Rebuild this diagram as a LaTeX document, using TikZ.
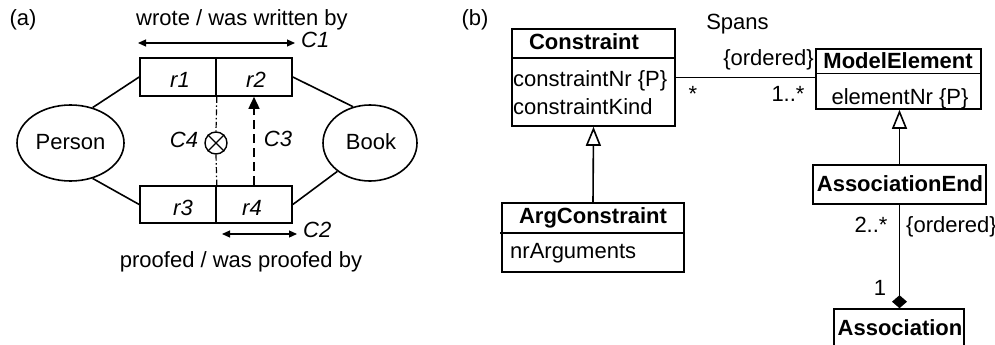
\documentclass[tikz,border=0pt]{standalone}
\usepackage{fontspec}
\setmainfont{Liberation Sans}
\usetikzlibrary{arrows.meta,shapes.geometric}
\begin{document}
\begin{tikzpicture}[x=1pt,y=-1pt,
  txt/.style={inner sep=0pt, anchor=base, font=\fontsize{22}{24}\selectfont},
  txtl/.style={txt, anchor=base west},
  txtr/.style={txt, anchor=base east},
  bold/.style={txt, font=\fontsize{22}{24}\selectfont\bfseries},
  bx/.style={draw, line width=1.6pt, inner sep=0pt, rectangle},
  ln/.style={line width=1.6pt},
  ell/.style={draw, ellipse, line width=1.6pt, inner sep=0pt},
  dbl/.style={line width=1.2pt, {Triangle[length=8pt,width=7pt]}-{Triangle[length=8pt,width=7pt]}},
  gen/.style={ln, -{Triangle[open, length=19pt, width=15pt]}},
  comp/.style={ln, -{Diamond[length=13pt, width=15pt]}},
]
\useasboundingbox (0,0) rectangle (995,345);

% ---------- panel (a) ----------
\node[txt] (la) at (23,26) {(a)};
\node[txt] (wrote) at (242,26) {wrote / was written by};
\node[txt] (proofed) at (241,267) {proofed / was proofed by};

\node[bx, minimum width=76pt, minimum height=38pt] (r1) at (178,77) {};
\node[bx, minimum width=76pt, minimum height=38pt] (r2) at (254,77) {};
\node[bx, minimum width=76pt, minimum height=37pt] (r3) at (178,204.5) {};
\node[bx, minimum width=76pt, minimum height=37pt] (r4) at (254,204.5) {};
\node[txt] (r1t) at (180,87) {\textit{r1}};
\node[txt] (r2t) at (256,87) {\textit{r2}};
\node[txt] (r3t) at (183,215) {\textit{r3}};
\node[txt] (r4t) at (252,215) {\textit{r4}};

\node[ell, minimum width=107pt, minimum height=76pt] (person) at (70.5,143) {};
\node[ell, minimum width=94pt, minimum height=76pt] (book) at (370,143) {};
\node[txt] (persont) at (70.5,149) {Person};
\node[txt] (bookt) at (371,149) {Book};

\draw[ln] (person.58) -- (r1.west);
\draw[ln] (person.-58) -- (r3.west);
\draw[ln] (book.115) -- (r2.east);
\draw[ln] (book.-139) -- (r4.east);

% C1, C2
\coordinate (c1a) at (138,43);
\coordinate (c1b) at (295,43);
\draw[dbl] (c1a) -- (c1b);
\node[txtl] (c1) at (301,48) {\textit{C1}};
\coordinate (c2a) at (222,234);
\coordinate (c2b) at (297,234);
\draw[dbl] (c2a) -- (c2b);
\node[txtl] (c2) at (303,237) {\textit{C2}};

% C4
\node[circle, draw, line width=1.4pt, minimum size=22pt, inner sep=0pt] (c4) at (216,143) {};
\draw[line width=1.4pt] (c4.north west) -- (c4.south east);
\draw[line width=1.4pt] (c4.north east) -- (c4.south west);
\draw[line width=1.2pt, dash pattern=on 6pt off 2.5pt on 1.5pt off 2.5pt] (r1.south east) -- (c4.north);
\draw[line width=1.2pt, dash pattern=on 6pt off 2.5pt on 1.5pt off 2.5pt] (c4.south) -- (r3.north east);
\node[txt] (c4t) at (184,147) {\textit{C4}};

% C3
\draw[line width=1.5pt, dash pattern=on 9pt off 5pt, -{Triangle[length=12pt, width=11pt]}] (r4.north) -- (r2.south);
\node[txt] (c3t) at (278,146) {\textit{C3}};

% ---------- panel (b) ----------
\node[txt] (lb) at (475,26) {(b)};
\node[txt] (spans) at (737.5,30) {Spans};

\node[bx, minimum width=163pt, minimum height=97pt] (cons) at (593.5,77.5) {};
\draw[ln] (512,58) -- (675,58);
\node[bold] (const) at (584,49) {Constraint};
\node[txtl] (cnr) at (513,86) {constraintNr \{P\}};
\node[txtl] (ckind) at (513,114) {constraintKind};

\node[bx, minimum width=165pt, minimum height=60pt] (me) at (898.5,79) {};
\draw[ln] (816,73.5) -- (981,73.5);
\node[bold] (met) at (898,68) {ModelElement};
\node[txt] (enr) at (900,104) {elementNr \{P\}};

\node[bx, minimum width=173pt, minimum height=39pt] (ae) at (899.5,184.5) {};
\node[bold] (aet) at (900,191) {AssociationEnd};

\node[bx, minimum width=182pt, minimum height=69pt] (argc) at (593,237.5) {};
\draw[ln] (500,233) -- (684,233);
\node[bold] (argct) at (593,223) {ArgConstraint};
\node[txtl] (nrarg) at (510,258) {nrArguments};

\node[bx, minimum width=130pt, minimum height=51pt] (assoc) at (899,334.5) {};
\node[bold] (assoct) at (900,335) {Association};

% connectors
\draw[ln] (cons.east) -- (cons.east -| me.west);
\node[txtr] (ord1) at (814,65) {\{ordered\}};
\node[txt] (star) at (693,101) {*};
\node[txt] (onestar) at (788,101.5) {1..*};

\draw[gen] (argc.north) -- (cons.south);
\draw[gen] (ae.north) -- (ae.north |- me.south);

\draw[comp] (ae.south) -- (ae.south |- assoc.north);
\node[txt] (twostar) at (871,232) {2..*};
\node[txtl] (ord2) at (906,232) {\{ordered\}};
\node[txt] (one) at (880,295) {1};
\end{tikzpicture}
\end{document}
